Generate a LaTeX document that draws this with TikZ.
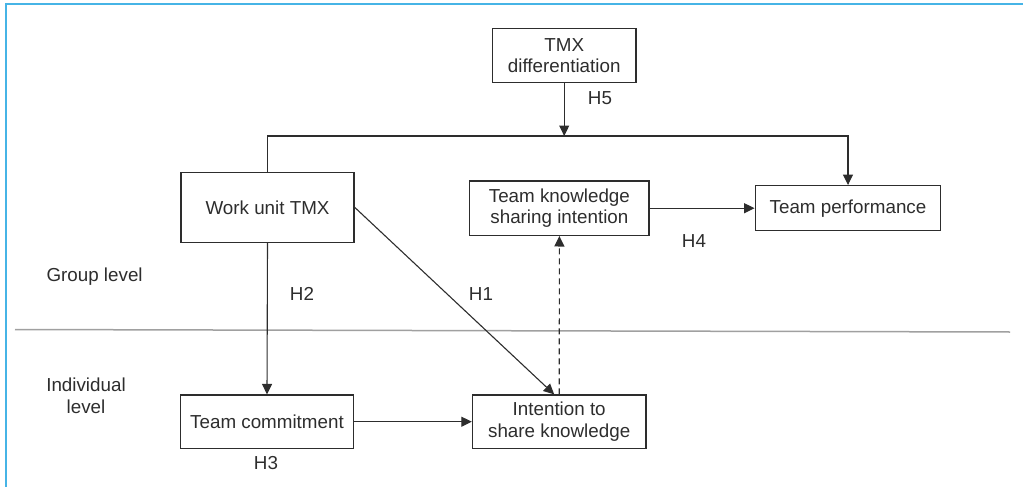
\documentclass[tikz,border=0pt]{standalone}
\usepackage{fontspec}
\setmainfont{Liberation Sans}
\usetikzlibrary{arrows.meta}
\definecolor{framebl}{RGB}{70,180,230}
\definecolor{ink}{RGB}{45,45,45}
\definecolor{divgray}{RGB}{160,160,160}
\begin{document}
\begin{tikzpicture}[x=1pt,y=-1pt,
  box/.style={draw=ink,line width=1.3pt,inner sep=0pt,align=center,text=ink,
    font=\fontsize{18.8}{21.5}\selectfont},
  lbl/.style={text=ink,inner sep=0pt,align=center,font=\fontsize{18.8}{21.5}\selectfont},
  conn/.style={draw=ink,line width=1.1pt},
  arr/.style={conn,-{Triangle[length=10.5pt,width=10pt]}}]
\useasboundingbox (0,0) rectangle (1023,487);
% frame (top and left only)
\draw[framebl,line width=2pt] (6,487) -- (6,4.5) -- (1023,4.5);
% divider
\draw[divgray,line width=1.5pt] (15,329.5) -- (1010,332);
% nodes
\node[box,minimum width=143.7pt,minimum height=54.4pt] (tmx) at (564.2,55.5) {TMX\\differentiation};
\node[box,minimum width=173pt,minimum height=70pt] (wu) at (267.5,207.3) {Work unit TMX};
\node[box,minimum width=179.3pt,minimum height=54.3pt] (tksi) at (559.4,208.2) {Team knowledge\\sharing intention};
\node[box,minimum width=185.6pt,minimum height=45pt] (tp) at (848,208.2) {Team performance};
\node[box,minimum width=173.6pt,minimum height=53.3pt] (tc) at (267,421.7) {Team commitment};
\node[box,minimum width=173.5pt,minimum height=53.3pt] (its) at (559.2,421.7) {Intention to\\share knowledge};
\coordinate (junc) at (564.2,136);
% connectors
\draw[conn,-{Triangle[length=10.5pt,width=10pt]}] (wu.north) |- (junc) -| (tp.north);
\draw[arr] (tmx.south) -- (junc);
\draw[arr] (wu.south) -- (tc.north);
\draw[arr] (wu.east) -- ([xshift=-5pt]its.north);
\draw[arr,dashed,dash pattern=on 6pt off 4pt] (its.north) -- (tksi.south);
\draw[arr] (tc.east) -- (its.west);
\draw[arr] (tksi.east) -- (tp.west);
% labels
\node[lbl] (h5) at (600,98.3) {H5};
\node[lbl] (h4) at (694,240.7) {H4};
\node[lbl] (h2) at (302,294) {H2};
\node[lbl] (h1) at (481,294) {H1};
\node[lbl] (h3) at (266,463.3) {H3};
\node[lbl] (grp) at (94.6,276.7) {Group level};
\node[lbl] (ind) at (86,396) {Individual\\level};
\end{tikzpicture}
\end{document}
